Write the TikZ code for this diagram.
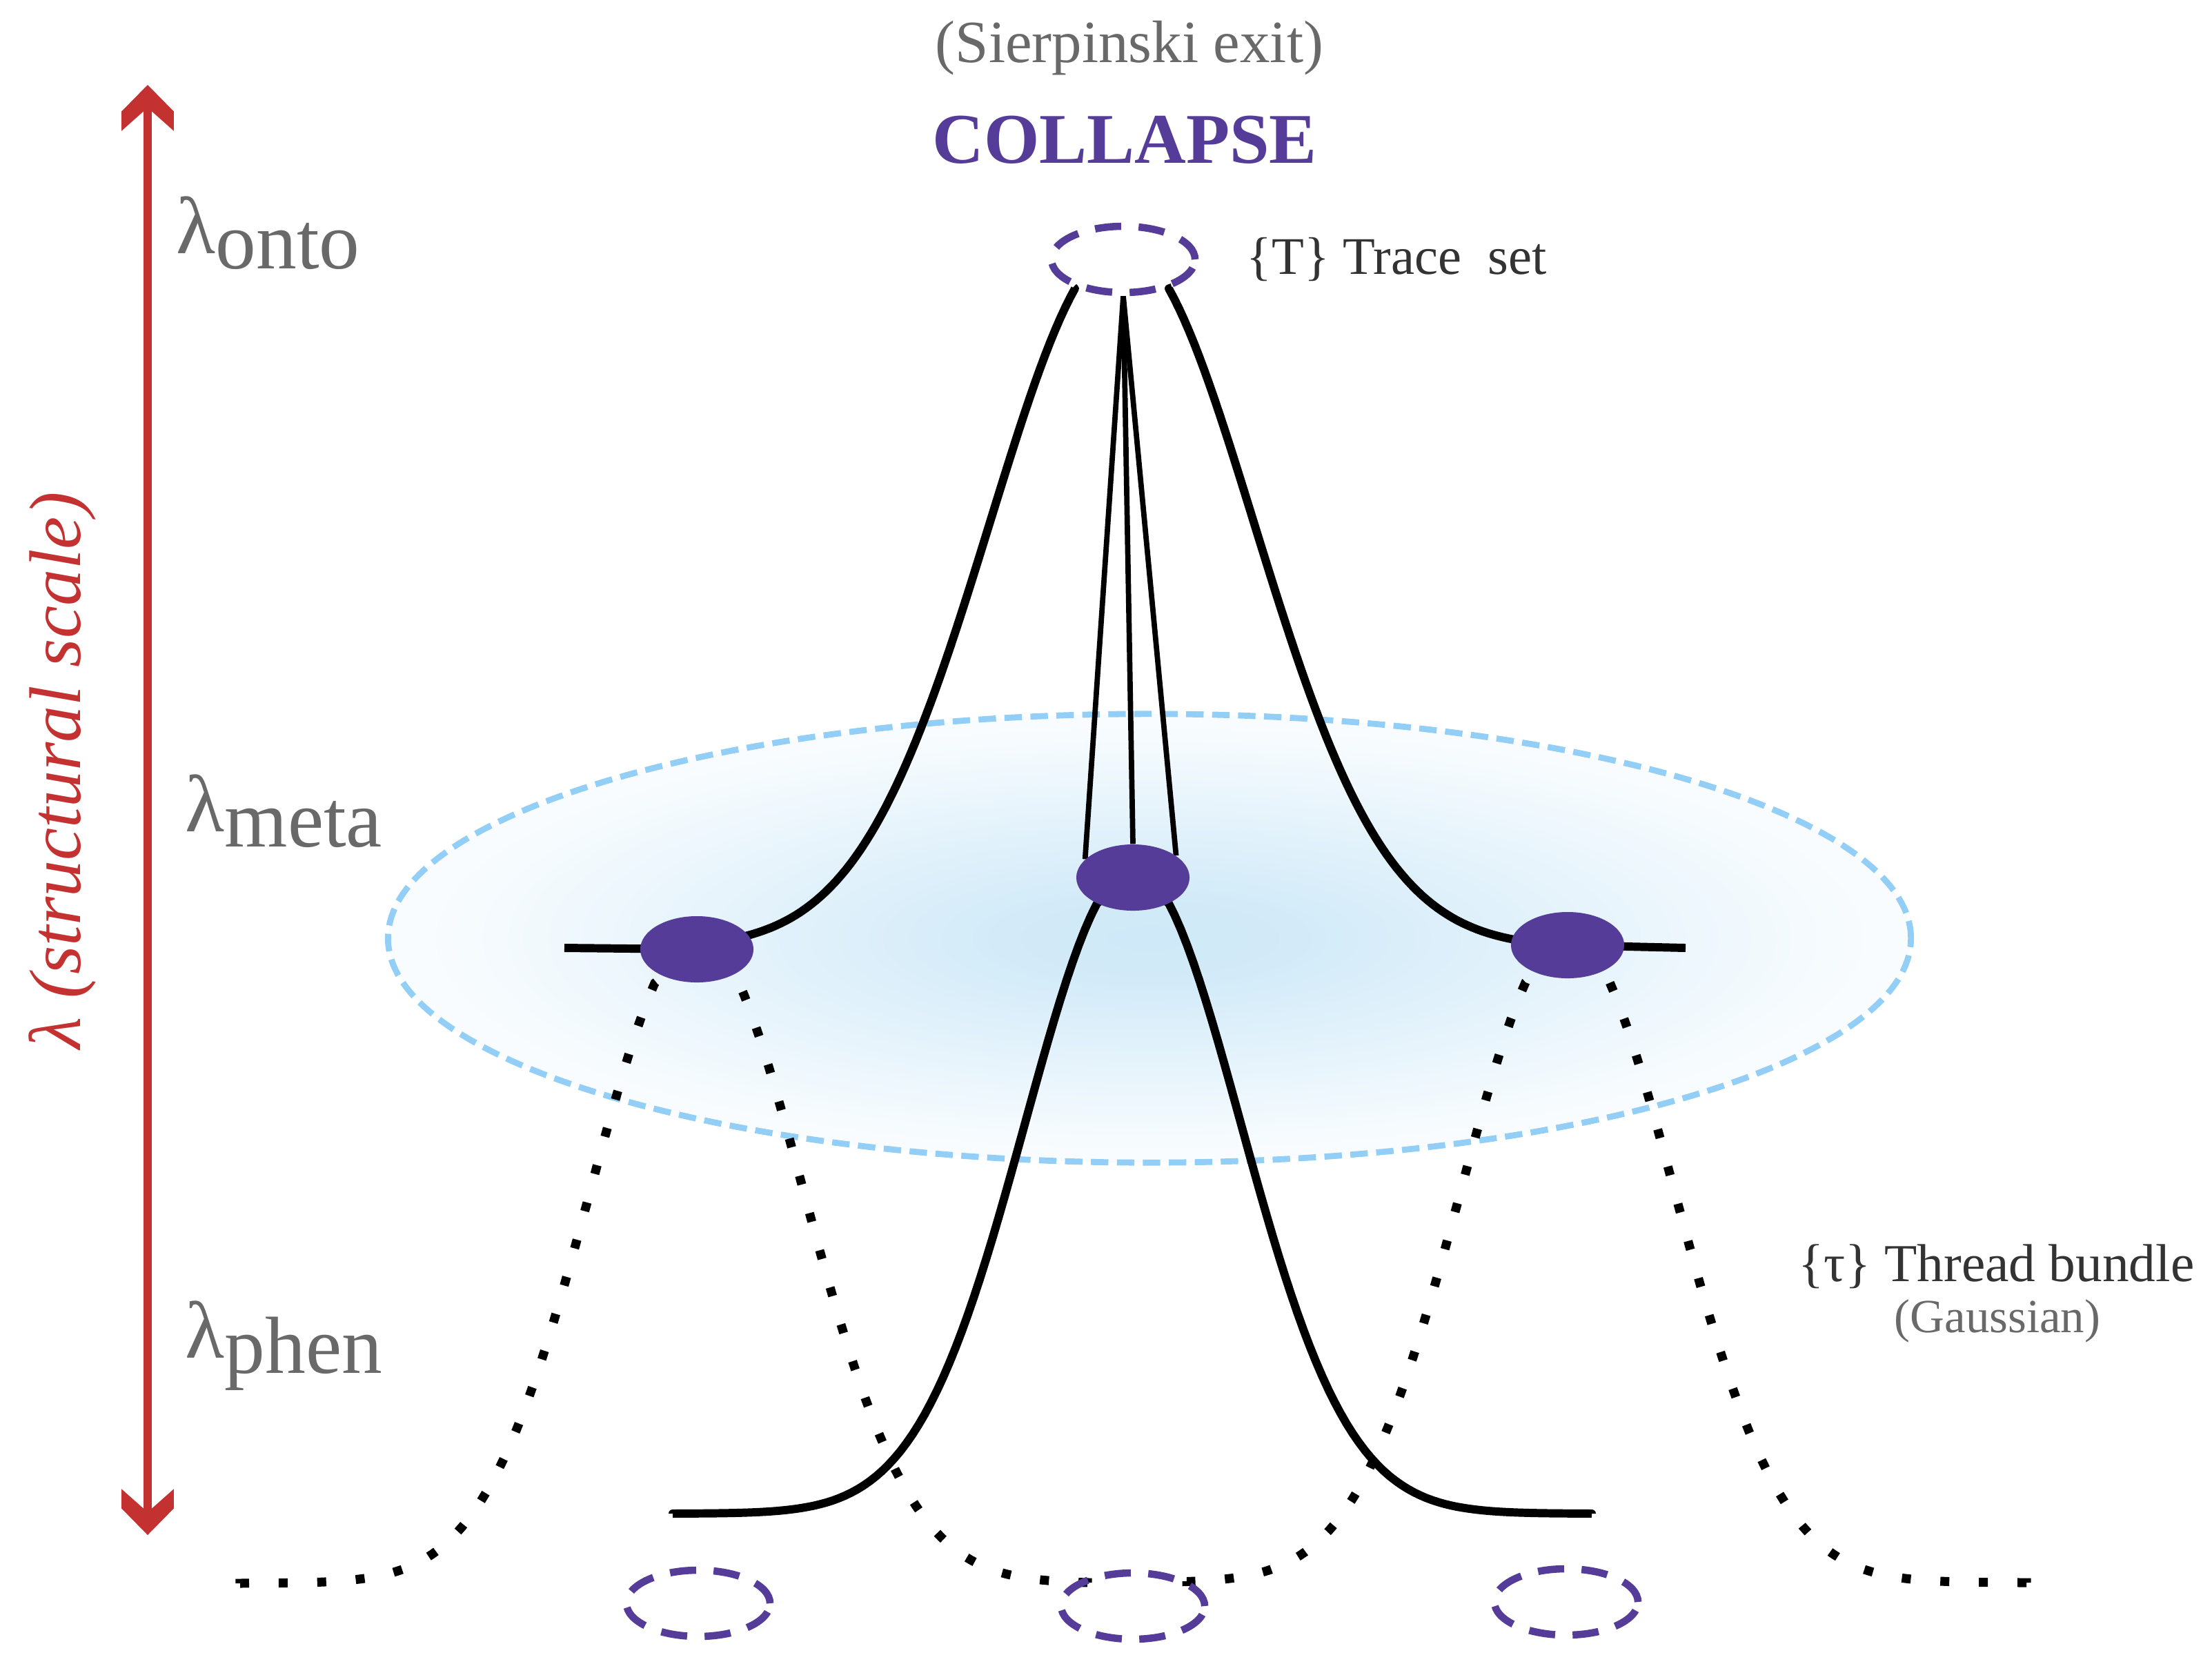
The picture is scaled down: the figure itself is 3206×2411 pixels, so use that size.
\documentclass[tikz,border=0pt]{standalone}
\usepackage{fontspec}
\setmainfont{Liberation Serif}
\usetikzlibrary{shapes.geometric}
\usetikzlibrary{backgrounds}
\definecolor{plum}{HTML}{553C98}
\definecolor{scalered}{HTML}{C43131}
\definecolor{midgray}{HTML}{696969}
\definecolor{darkgray}{HTML}{333333}
\definecolor{glowblue}{HTML}{CFE9F8}
\definecolor{rimblue}{HTML}{92CEF5}
\pgfdeclareradialshading{glow}{\pgfpointorigin}{color(0bp)=(glowblue);color(5bp)=(glowblue!92!white);color(13bp)=(glowblue!58!white);color(22bp)=(glowblue!20!white);color(29bp)=(white);color(50bp)=(white)}
\pgfdeclarearrow{
  name = Chevron,
  setup code = {\pgfarrowssettipend{0pt}\pgfarrowssetlineend{-9pt}\pgfarrowssetbackend{-19pt}\pgfarrowssetvisualbackend{-9pt}},
  drawing code = {
    \pgfpathmoveto{\pgfpointorigin}
    \pgfpathlineto{\pgfpoint{-11pt}{10.8pt}}
    \pgfpathlineto{\pgfpoint{-19pt}{10.8pt}}
    \pgfpathlineto{\pgfpoint{-9.4pt}{0pt}}
    \pgfpathlineto{\pgfpoint{-19pt}{-10.8pt}}
    \pgfpathlineto{\pgfpoint{-11pt}{-10.8pt}}
    \pgfpathclose
    \pgfusepathqfill
  }
}
\tikzset{
    declare function={gauss(\x,\m,\s,\a)=\a*exp(-0.5*((\x-\m)/\s)^2);},
    hub/.style = {ellipse, fill=plum, inner sep=0pt, minimum width=1.64cm, minimum height=0.96cm},
    traceset/.style = {ellipse, draw=plum, line width=3pt, dash pattern=on 10.8pt off 7.2pt, inner sep=0pt, minimum width=2.08cm, minimum height=0.96cm},
    halo/.style = {ellipse, draw=rimblue, line width=2.5pt, dash pattern=on 7.2pt off 3.5pt, shading=glow, inner sep=0pt, minimum width=22.06cm, minimum height=6.5cm},
    edgeb/.style = {line width=3.4pt, line join=round},
    edget/.style = {line width=2.2pt},
    edged/.style = {line width=3.7pt, dash pattern=on 3.7pt off 12.2pt},
    edges/.style = {{Chevron}-{Chevron}, line width=3.6pt, draw=scalered},
    lamtext/.style = {anchor=base west, inner sep=0pt, text=midgray, font=\fontsize{33.4}{36}\selectfont},
    sidetext/.style = {anchor=base west, inner sep=0pt, font=\fontsize{22}{26}\selectfont}
}
\newcommand{\Lam}[1]{λ\raisebox{-6.5pt}{#1}}
\begin{document}
\begin{tikzpicture}[x=0.01cm, y=-0.01cm]
\useasboundingbox (0,0) rectangle (3206,2411);
\node[hub] at (1010,1376) (hubl) {};
\node[hub] at (1642,1272) (hubc) {};
\node[hub] at (2272,1370) (hubr) {};
\node[traceset] at (1628,376) (top) {};
\node[traceset] at (1012,2324) (sitel) {};
\node[traceset] at (1642,2328) (sitec) {};
\node[traceset] at (2270,2322) (siter) {};
\coordinate (scaletop) at (214,123);
\coordinate (scalebot) at (214,2225);
\coordinate (upl) at (818,1374);
\coordinate (upr) at (2443,1374);
\coordinate (lowl) at (975,2194);
\coordinate (lowr) at (2307,2194);
\coordinate (dotl) at (348,2295);
\coordinate (dotm) at (1576,2294);
\coordinate (dotn) at (1720,2292);
\coordinate (dotr) at (2937,2294);
%
\begin{scope}[on background layer]
\node[halo] at (1666,1360) (glow) {};
\draw[edgeb] (upl) -- (hubl.center) -- plot[domain=1060:1558,samples=70] (\x,{1374-gauss(\x,1626,191,1018)}) -- (top.209);
\draw[edgeb] (upr) -- (hubr.center) -- plot[domain=2200:1694,samples=70] (\x,{1374-gauss(\x,1626,191,1018)}) -- (top.330);
\draw[edgeb] (lowl) -- plot[domain=975:1590,samples=70] (\x,{2194-gauss(\x,1642,156,935)}) -- (hubc.center);
\draw[edgeb] (lowr) -- plot[domain=2307:1694,samples=70] (\x,{2194-gauss(\x,1642,156,935)}) -- (hubc.center);
\draw[edget] (top.south) -- (hubc.north);
\draw[edget] (top.south) -- (hubc.159);
\draw[edget] (top.south) -- (hubc.27);
\draw[edged] (dotl) -- plot[domain=348:949,samples=70] (\x,{2295-gauss(\x,1010,154,941)}) -- (hubl.center);
\draw[edged] (dotm) -- plot[domain=1576:1071,samples=70] (\x,{2295-gauss(\x,1010,154,941)}) -- (hubl.center);
\draw[edged] (dotn) -- plot[domain=1720:2211,samples=70] (\x,{2294-gauss(\x,2272,154,941)}) -- (hubr.center);
\draw[edged] (dotr) -- plot[domain=2937:2333,samples=70] (\x,{2294-gauss(\x,2272,154,941)}) -- (hubr.center);
\end{scope}
%
\draw[edges] (scalebot) -- (scaletop);
\node[rotate=90, inner sep=0pt, text=scalered, font=\fontsize{30.2}{34}\selectfont\itshape] at (90,1117) (scalename) {λ (structural scale)};
\node[lamtext] at (255,367) (onto) {\Lam{onto}};
\node[lamtext] at (268,1205) (meta) {\Lam{meta}};
\node[lamtext] at (268,1968) (phen) {\Lam{phen}};
\node[anchor=base, inner sep=0pt, text=midgray, font=\fontsize{24.7}{28}\selectfont] at (1637,90) (exit) {(Sierpinski exit)};
\node[anchor=base, inner sep=0pt, text=plum, font=\fontsize{29.4}{33}\selectfont\bfseries] at (1630,236) (collapse) {COLLAPSE};
\node[sidetext, text=darkgray, font=\fontsize{21.8}{26}\selectfont] at (1806,397) (traces) {\{T\} Trace\ \ set};
\node[sidetext, text=darkgray] at (2606,1857) (threads) {\{τ\} Thread bundle};
\node[sidetext, text=midgray, font=\fontsize{19.6}{24}\selectfont] at (2745,1931) (gaussian) {(Gaussian)};
\end{tikzpicture}
\end{document}
